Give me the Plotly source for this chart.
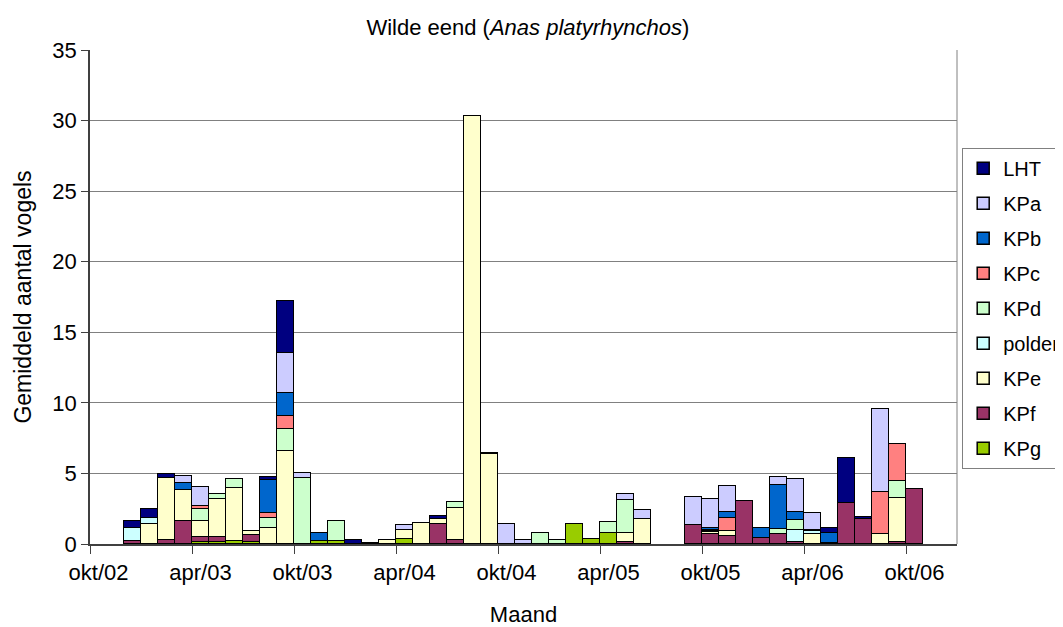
import plotly.graph_objects as go

# maanden okt/02 .. dec/06
months = (["okt/02", "nov/02", "dec/02"]
          + [m + "/03" for m in ["jan", "feb", "mrt", "apr", "mei", "jun", "jul", "aug", "sep", "okt", "nov", "dec"]]
          + [m + "/04" for m in ["jan", "feb", "mrt", "apr", "mei", "jun", "jul", "aug", "sep", "okt", "nov", "dec"]]
          + [m + "/05" for m in ["jan", "feb", "mrt", "apr", "mei", "jun", "jul", "aug", "sep", "okt", "nov", "dec"]]
          + [m + "/06" for m in ["jan", "feb", "mrt", "apr", "mei", "jun", "jul", "aug", "sep", "okt", "nov", "dec"]])

#        okt-dec 02        jan .. dec 03                                        jan .. dec 04                                   jan .. dec 05                                          jan .. dec 06
KPg = [0, 0, 0] + [0, 0, 0, 0.17, 0.17, 0.2, 0.17, 0, 0, 0, 0.2, 0.2] + [0, 0, 0, 0.35, 0, 0, 0, 0, 0, 0, 0, 0] + [0, 1.4, 0.38, 0.75, 0, 0, 0, 0, 0, 0, 0, 0] + [0] * 12
KPf = [0, 0, 0.2] + [0, 0.28, 1.65, 0.3, 0.3, 0, 0.45, 0, 0, 0, 0, 0] + [0, 0, 0, 0, 0, 1.4, 0.25, 0, 0, 0, 0, 0] + [0, 0, 0, 0, 0.15, 0, 0, 0, 1.37, 0.7, 0.57, 3.03] + [0.45, 0.71, 0.15, 0, 0.1, 2.89, 1.75, 0, 0.17, 3.89, 0, 0]
KPe = [0, 0, 0] + [1.45, 4.4, 2.15, 1.15, 2.7, 3.75, 0.3, 1.1, 6.6, 0, 0, 0] + [0, 0, 0.3, 0.65, 1.5, 0.35, 2.3, 30.3, 6.35, 0, 0, 0] + [0, 0, 0, 0, 0.6, 1.78, 0, 0, 0, 0.12, 0.38, 0] + [0, 0, 0, 0.71, 0, 0, 0, 0.71, 3.12, 0, 0, 0]
polder = [0, 0, 0.9] + [0.4, 0, 0, 0, 0, 0, 0, 0, 0, 0, 0, 0] + [0] * 12 + [0, 0, 0, 0, 0, 0, 0, 0, 0, 0.1, 0, 0] + [0, 0, 0.85, 0.2, 0, 0, 0, 0, 0, 0, 0, 0]
KPd = [0, 0, 0] + [0, 0, 0, 0.85, 0.38, 0.65, 0, 0.76, 1.55, 4.7, 0, 1.45] + [0, 0, 0, 0, 0, 0, 0.4, 0, 0, 0, 0, 0.75] + [0.28, 0, 0, 0.8, 2.4, 0, 0, 0, 0, 0.1, 0, 0] + [0, 0.36, 0.7, 0, 0, 0, 0, 0, 1.14, 0, 0, 0]
KPc = [0, 0, 0] + [0, 0, 0, 0.2, 0, 0, 0, 0.36, 0.9, 0, 0, 0] + [0] * 12 + [0, 0, 0, 0, 0, 0, 0, 0, 0, 0, 0.92, 0] + [0, 0, 0, 0, 0, 0, 0, 2.96, 2.67, 0, 0, 0]
KPb = [0, 0, 0] + [0, 0, 0.55, 0, 0, 0, 0, 2.3, 1.65, 0, 0.55, 0] + [0] * 12 + [0, 0, 0, 0, 0, 0, 0, 0, 0, 0.1, 0.38, 0] + [0.71, 3.12, 0.55, 0.1, 0.7, 0, 0, 0, 0, 0, 0, 0]
KPa = [0, 0, 0] + [0, 0, 0.5, 1.4, 0, 0, 0, 0, 2.8, 0.3, 0, 0] + [0, 0, 0, 0.37, 0, 0, 0, 0, 0, 1.4, 0.25, 0] + [0, 0, 0, 0, 0.4, 0.64, 0, 0, 1.95, 2.06, 1.83, 0] + [0, 0.55, 2.35, 1.17, 0, 0, 0, 5.9, 0, 0, 0, 0]
LHT = [0, 0, 0.5] + [0.65, 0.3, 0, 0, 0, 0, 0, 0.2, 3.75, 0, 0, 0] + [0.3, 0.1, 0, 0, 0, 0.2, 0, 0, 0.1, 0, 0, 0] + [0] * 12 + [0, 0, 0, 0, 0.3, 3.2, 0.15, 0, 0, 0, 0, 0]

# van onder naar boven gestapeld
series = [
    ("KPg", KPg, "#99CC00"),
    ("KPf", KPf, "#993366"),
    ("KPe", KPe, "#FFFFCC"),
    ("polder", polder, "#CCFFFF"),
    ("KPd", KPd, "#CCFFCC"),
    ("KPc", KPc, "#FF8080"),
    ("KPb", KPb, "#0066CC"),
    ("KPa", KPa, "#CCCCFF"),
    ("LHT", LHT, "#000080"),
]

FONT = "Liberation Sans, Arial, sans-serif"

fig = go.Figure()
for i, (name, vals, col) in enumerate(series):
    fig.add_trace(go.Bar(
        x=months,
        y=[v if v else None for v in vals],
        name=name,
        legendgroup=name,
        legendrank=100 - i,  # LHT bovenaan in de legenda
        marker=dict(color=col, line=dict(color="black", width=1.5)),
    ))

# de pagina heeft 8px marge; plotvlak komt zo op x 90..957, y 50..544
fig.update_layout(
    barmode="stack",
    bargap=0,
    width=1063, height=627,
    margin=dict(l=82, r=114, t=42, b=91, autoexpand=False),
    paper_bgcolor="white",
    plot_bgcolor="white",
    font=dict(family=FONT, size=22, color="black"),
    title=dict(text="Wilde eend (<i>Anas platyrhynchos</i>)", xref="paper", x=0.505, xanchor="center",
               y=0.97, yanchor="middle", font=dict(size=22)),
    legend=dict(
        x=1.006, xanchor="left", y=0.802, yanchor="top",
        traceorder="grouped", tracegroupgap=6,
        bordercolor="#808080", borderwidth=1,
        font=dict(size=20), itemwidth=30,
    ),
    showlegend=True,
)

fig.update_xaxes(
    type="category",
    categoryorder="array", categoryarray=months,
    tickmode="linear", tick0=0, dtick=6,
    tickson="boundaries",
    tickangle=0,
    ticks="outside", ticklen=8, tickcolor="#404040",
    ticklabelstandoff=8,
    showline=True, linecolor="#404040", linewidth=1.5,
    showgrid=False,
    tickfont=dict(size=22),
    title=dict(text="Maand", font=dict(size=22), standoff=22),
)
fig.update_yaxes(
    range=[0, 35], tick0=0, dtick=5,
    ticks="outside", ticklen=7, tickcolor="#404040",
    showline=True, linecolor="#404040", linewidth=1.5,
    showgrid=True, gridcolor="#808080", gridwidth=1,
    tickfont=dict(size=22),
    title=dict(text="Gemiddeld aantal vogels", font=dict(size=23), standoff=14),
    zeroline=False,
)

# rechter rand van het plotvlak
fig.add_shape(type="line", xref="paper", yref="paper", x0=1, x1=1, y0=0, y1=1,
              line=dict(color="#808080", width=1), layer="below")

fig.write_html("out.html")
